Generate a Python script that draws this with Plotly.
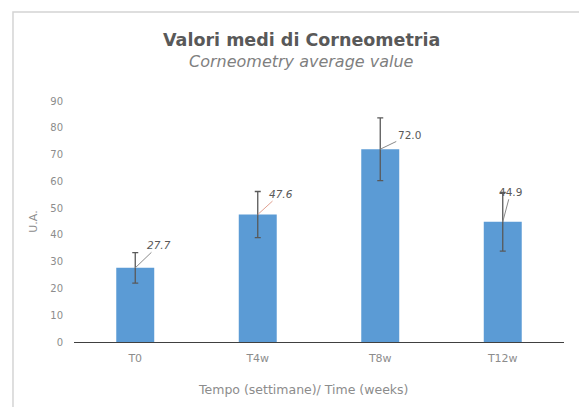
import plotly.graph_objects as go

categories = ["T0", "T4w", "T8w", "T12w"]
values = [27.7, 47.6, 72.0, 44.9]
errors = [5.7, 8.6, 11.7, 11.0]
label_texts = ["27.7", "47.6", "72.0", "44.9"]
y_ticks = [0, 10, 20, 30, 40, 50, 60, 70, 80, 90]

FONT = "'DejaVu Sans', sans-serif"

fig = go.Figure()
fig.add_trace(go.Bar(
    x=categories, y=values,
    marker=dict(color="#5B9BD5", line=dict(width=0)),
    error_y=dict(type="data", array=errors, visible=True,
                 color="#595959", thickness=1.3, width=3),
    hoverinfo="skip",
))

offsets = [(24, -23), (23, -21), (29, -14), (8, -30)]
line_cols = ["#8a8a8a", "#e0a090", "#8a8a8a", "#8a8a8a"]
italics = [True, True, False, False]
for c, v, t, (ax, ay), lc, it in zip(categories, values, label_texts, offsets, line_cols, italics):
    fig.add_annotation(
        x=c, y=v, xref="x", yref="y",
        text=f"<i>{t}</i>" if it else t,
        showarrow=True, arrowhead=0, arrowwidth=1, arrowcolor=lc,
        ax=ax, ay=ay, standoff=0,
        font=dict(family=FONT, size=10.5, color="#595959"),
    )

# chart frame
fig.add_shape(type="rect", xref="paper", yref="paper",
              x0=-0.1245, x1=1.2, y0=-0.5, y1=1.369,
              line=dict(color="#d4d4d4", width=1.5), fillcolor="rgba(0,0,0,0)",
              layer="below")

# title and subtitle
fig.add_annotation(
    text="<b>Valori medi di Corneometria</b>", xref="paper", yref="paper",
    x=0.465, y=1.253, xanchor="center", yanchor="middle", showarrow=False,
    font=dict(family=FONT, size=17.5, color="#595959"),
)
fig.add_annotation(
    text="<i>Corneometry average value</i>", xref="paper", yref="paper",
    x=0.465, y=1.162, xanchor="center", yanchor="middle", showarrow=False,
    font=dict(family=FONT, size=16, color="#7f7f7f"),
)
# x axis title
fig.add_annotation(
    text="Tempo (settimane)/ Time (weeks)", xref="paper", yref="paper",
    x=0.467, y=-0.199, xanchor="center", yanchor="middle", showarrow=False,
    font=dict(family=FONT, size=12.5, color="#8c8c8c"),
)

fig.update_layout(
    width=579, height=399,
    margin=dict(l=66, r=23, t=93, b=65),
    paper_bgcolor="white", plot_bgcolor="white",
    bargap=0.69,
    showlegend=False,
    font=dict(family=FONT, color="#8c8c8c"),
    xaxis=dict(
        showline=True, linecolor="#404040", linewidth=1.3,
        ticks="", tickfont=dict(size=11, color="#8c8c8c"),
        ticklabelstandoff=6,
        showgrid=False, automargin=False,
    ),
    yaxis=dict(
        range=[0, 90], tickvals=y_ticks, showgrid=False, zeroline=False,
        showline=False, ticks="", tickfont=dict(size=10, color="#8c8c8c"),
        ticklabelstandoff=10, automargin=False,
        title=dict(text="U.A.", font=dict(size=11, color="#8c8c8c"), standoff=10),
    ),
)

fig.write_html("out.html")
